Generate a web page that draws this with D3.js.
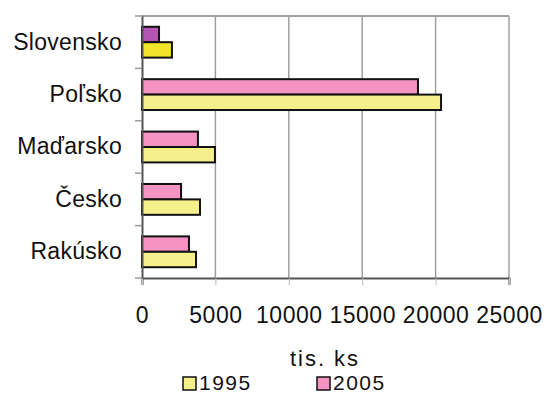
<!DOCTYPE html>
<html>
<head>
<meta charset="utf-8">
<script src="https://cdn.jsdelivr.net/npm/d3@7"></script>
<style>
  body { margin: 0; background: #fff; }
  text { font-family: "Liberation Sans", Arial, sans-serif; fill: #111; }
</style>
</head>
<body>
<div id="container"></div>
<script>
/* DATA */
const countries = ['Slovensko', 'Poľsko', 'Maďarsko', 'Česko', 'Rakúsko'];
const years = ['2005', '1995'];
const values1995 = [2040, 20370, 4970, 3950, 3680];
const values2005 = [1160, 18800, 3810, 2660, 3200];
const xTicks = [0, 5000, 10000, 15000, 20000, 25000];
const unitLabel = 'tis. ks';

/* CONSTANTS */
const width = 544, height = 396;
const margin = { left: 142, right: 35, top: 16, bottom: 118 };

const colors = { '1995': '#f6f08c', '2005': '#f593c2' };
// Slovensko is highlighted in the original
const highlight = { '1995': '#f2e42a', '2005': '#b356b3' };

const svg = d3.select('#container')
  .append('svg')
  .attr('width', width)
  .attr('height', height);

/* SCALES */
const xScale = d3.scaleLinear()
  .domain([0, 25000])
  .range([margin.left, width - margin.right]);

const yScale = d3.scaleBand()
  .domain(countries)
  .range([margin.top, height - margin.bottom]);

const inner = d3.scaleBand()
  .domain(years)
  .range([0, yScale.bandwidth()])
  .paddingOuter(0.7);

/* GRID */
svg.append('g')
  .selectAll('line')
  .data(xTicks.slice(1))
  .join('line')
  .attr('x1', d => xScale(d)).attr('x2', d => xScale(d))
  .attr('y1', margin.top).attr('y2', height - margin.bottom)
  .attr('stroke', '#a0a0a0')
  .attr('stroke-width', 1.5);

svg.append('line')
  .attr('x1', margin.left).attr('x2', width - margin.right)
  .attr('y1', margin.top).attr('y2', margin.top)
  .attr('stroke', '#a0a0a0').attr('stroke-width', 2);

/* BARS */
const rows = [];
countries.forEach((c, i) => {
  rows.push({ country: c, year: '2005', value: values2005[i], i });
  rows.push({ country: c, year: '1995', value: values1995[i], i });
});

svg.append('g')
  .selectAll('rect')
  .data(rows)
  .join('rect')
  .attr('x', xScale(0))
  .attr('y', d => yScale(d.country) + inner(d.year))
  .attr('width', d => xScale(d.value) - xScale(0))
  .attr('height', inner.bandwidth())
  .attr('fill', d => d.i === 0 ? highlight[d.year] : colors[d.year])
  .attr('stroke', '#111')
  .attr('stroke-width', 2);

/* AXES */
const xAxis = d3.axisBottom(xScale).tickValues(xTicks).tickSize(7).tickFormat(d3.format('d'));
const gx = svg.append('g')
  .attr('transform', `translate(0,${height - margin.bottom})`)
  .call(xAxis);
gx.select('.domain').attr('stroke', '#555').attr('stroke-width', 2);
gx.selectAll('.tick line').attr('stroke', '#bbb');
gx.selectAll('.tick text')
  .attr('y', 29)
  .style('font-size', '23px')
  .style('letter-spacing', '0.5px');

const yAxis = d3.axisLeft(yScale).tickSize(0).tickPadding(20);
const gy = svg.append('g')
  .attr('transform', `translate(${margin.left},0)`)
  .call(yAxis);
gy.select('.domain').attr('stroke', '#555').attr('stroke-width', 2);
gy.selectAll('.tick text').style('font-size', '23px').style('letter-spacing', '0.3px');

// band boundary ticks on the left axis
svg.append('g')
  .selectAll('line')
  .data(countries.concat(['end']))
  .join('line')
  .attr('x1', margin.left - 7).attr('x2', margin.left)
  .attr('y1', (d, i) => margin.top + i * yScale.step())
  .attr('y2', (d, i) => margin.top + i * yScale.step())
  .attr('stroke', '#999').attr('stroke-width', 1.5);

/* AXIS TITLE */
svg.append('text')
  .attr('x', 325).attr('y', 366)
  .attr('text-anchor', 'middle')
  .style('font-size', '22px')
  .style('letter-spacing', '2px')
  .text(unitLabel);

/* LEGEND */
const legend = svg.append('g')
  .selectAll('g')
  .data(['1995', '2005'])
  .join('g')
  .attr('transform', (d, i) => `translate(${183 + i * 134},377)`);

legend.append('rect')
  .attr('width', 13).attr('height', 13)
  .attr('fill', d => colors[d])
  .attr('stroke', '#111').attr('stroke-width', 1.5);

legend.append('text')
  .attr('x', 16).attr('y', 13)
  .style('font-size', '21px')
  .style('letter-spacing', '1.5px')
  .text(d => d);
</script>
</body>
</html>
